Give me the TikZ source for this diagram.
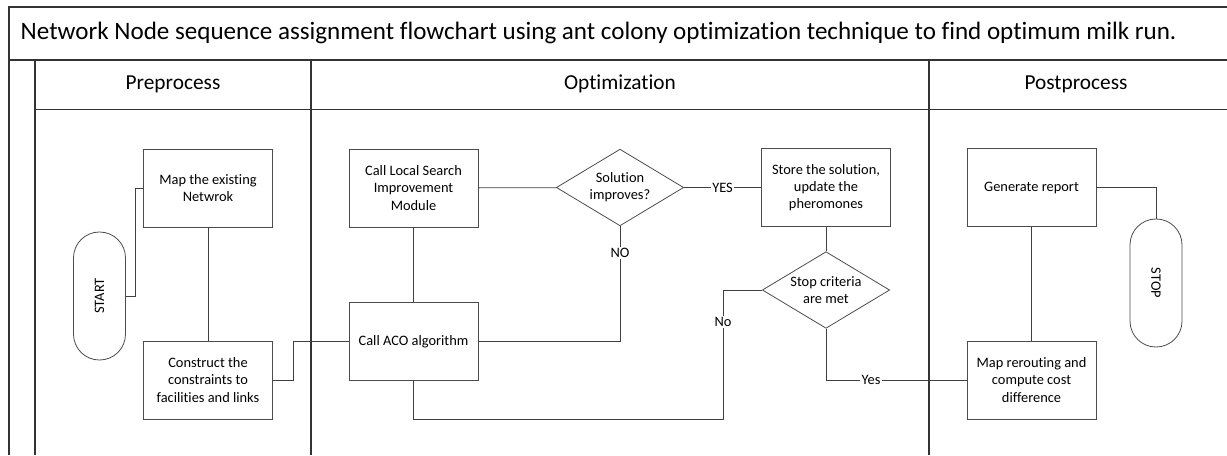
\documentclass[tikz,border=0pt]{standalone}
\usepackage{fontspec}
\setmainfont{Carlito}[Ligatures=NoCommon]
\usetikzlibrary{positioning}
\usetikzlibrary{shapes.geometric}

\newcommand{\boxfont}{\fontsize{10.8}{12.9}\selectfont}

\tikzset{
  frame/.style={draw=black!80, line width=0.9pt},
  procbox/.style={draw=black!70, line width=0.6pt, rectangle, minimum width=96.75pt, minimum height=58.5pt, inner sep=2pt, align=center, font=\boxfont},
  decision/.style={draw=black!70, line width=0.6pt, diamond, aspect=1.65, minimum width=95.5pt, minimum height=57.5pt, inner sep=0pt, align=center, font=\boxfont},
  terminal/.style={draw=black!70, line width=0.6pt, rectangle, rounded corners=19.4pt, minimum width=39pt, minimum height=96pt, inner sep=0pt, font=\boxfont},
  link/.style={draw=black!75, line width=0.6pt},
  lbl/.style={fill=white, inner sep=1pt, font=\boxfont}
}

\begin{document}
\begin{tikzpicture}[x=0.75pt, y=-0.75pt]

\useasboundingbox (0,0) rectangle (1227,455);

% pool and lanes
\draw[frame] (1227,7)--(9,7)--(9,455);
\draw[frame] (9,60)--(1227,60);
\draw[frame] (35,109.5)--(1227,109.5);
\draw[frame] (35,60)--(35,455);
\draw[frame] (311,60)--(311,455);
\draw[frame] (929,60)--(929,455);

\node[anchor=west, font=\fontsize{18.8}{22}\selectfont] (title) at (16,33) {Network Node sequence assignment flowchart using ant colony optimization technique to find optimum milk run.};

\node[font=\fontsize{16}{19}\selectfont] (hpre) at (173,84) {Preprocess};
\node[font=\fontsize{16}{19}\selectfont] (hopt) at (620,84) {Optimization};
\node[font=\fontsize{16}{19}\selectfont] (hpost) at (1076,84) {Postprocess};

% preprocess
\node[terminal] (start) at (99.5,296) {\rotatebox{90}{START}};
\node[procbox] (map) at (208,188) {Map the existing\\Netwrok};
\node[procbox] (constr) at (208,380) {Construct the\\constraints to\\facilities and links};

% optimization
\node[procbox] (local) at (413.5,188) {Call Local Search\\Improvement\\Module};
\node[procbox] (aco) at (413.5,341.5) {Call ACO algorithm};
\node[decision] (improve) at (620,187.5) {Solution\\improves?};
\node[procbox] (store) at (826,187.5) {Store the solution,\\update the\\pheromones};
\node[decision] (crit) at (826,290) {Stop criteria\\are met};

% postprocess
\node[procbox] (report) at (1031.5,187.5) {Generate report};
\node[procbox] (reroute) at (1031.5,380) {Map rerouting and\\compute cost\\difference};
\node[terminal] (stop) at (1156,283) {\rotatebox{-90}{STOP}};

\coordinate (nobend) at (723,419);

\draw[link] (start.east)--++(9.5,0) |- (map.west);
\draw[link] (map)--(constr);
\draw[link] (constr.east)--++(20,0) |- (aco.west);
\draw[link] (local)--(aco);
\draw[link] (local)--(improve);
\draw[link] (improve)--node[lbl]{YES}(store);
\draw[link] (aco.east) -| node[lbl, pos=0.885]{NO} (improve.south);
\draw[link] (store)--(crit);
\draw[link] (aco.south) |- (nobend) |- node[lbl, pos=0.375]{No} (crit.west);
\draw[link] (crit.south) |- node[lbl, pos=0.66]{Yes} (reroute.west);
\draw[link] (report)--(reroute);
\draw[link] (report.east) -| (stop.north);

\end{tikzpicture}
\end{document}
